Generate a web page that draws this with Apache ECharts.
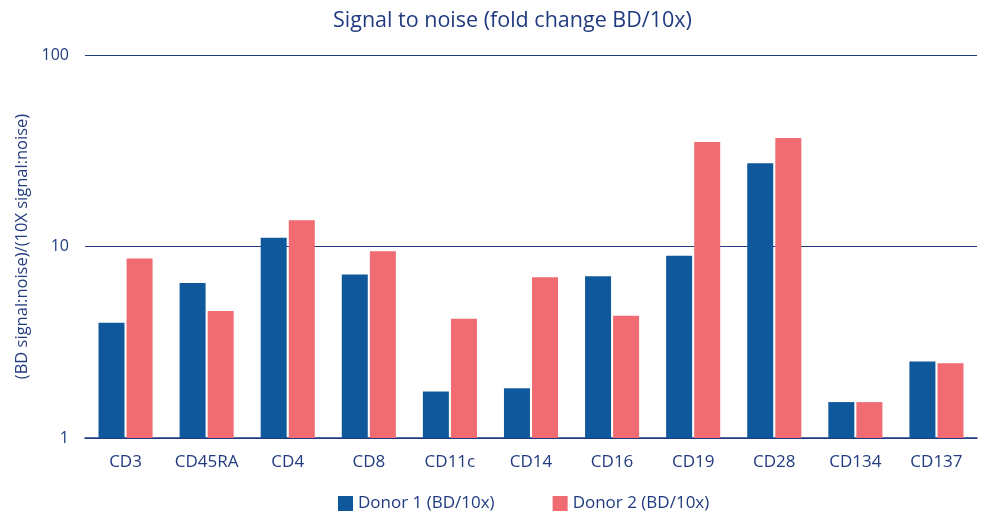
<!DOCTYPE html>
<html><head><meta charset="utf-8">
<script src="https://cdn.jsdelivr.net/npm/echarts@6/dist/echarts.min.js"></script>
<style>html,body{margin:0;padding:0;background:#fff}#c{width:989px;height:512px}</style>
</head><body><div id="c"></div>
<script>
const categories = ['CD3','CD45RA','CD4','CD8','CD11c','CD14','CD16','CD19','CD28','CD134','CD137'];
const donor1 = [4.0, 6.45, 11.1, 7.15, 1.75, 1.82, 7.0, 8.95, 27.2, 1.54, 2.51];
const donor2 = [8.65, 4.6, 13.7, 9.45, 4.2, 6.9, 4.35, 35.1, 36.9, 1.54, 2.46];
const seriesNames = ['Donor 1 (BD/10x)', 'Donor 2 (BD/10x)'];
const navy = '#213b80';
const font = 'Open Sans';
const chart = echarts.init(document.getElementById('c'));
chart.setOption({
  animation: false,
  title: {text: 'Signal to noise (fold change BD/10x)', left: 328, top: 5,
    textStyle: {color: navy, fontSize: 21.5, fontWeight: 'normal', fontFamily: font}},
  legend: {top: 490, left: 333, itemWidth: 15, itemHeight: 15, itemGap: 58,
    icon: 'rect', textStyle: {color: navy, fontSize: 17, fontFamily: font}},
  grid: {left: 85, right: 12, top: 55, bottom: 74},
  xAxis: {type: 'category', data: categories,
    axisLine: {lineStyle: {color: navy, width: 1.5}}, axisTick: {show: false},
    axisLabel: {color: navy, fontSize: 17, fontFamily: font, margin: 16, interval: 0}},
  yAxis: {type: 'log', logBase: 10, min: 1, max: 100,
    name: '(BD signal:noise)/(10X signal:noise)', nameLocation: 'middle', nameGap: 54,
    nameTextStyle: {color: navy, fontSize: 16.5, fontFamily: font},
    axisLine: {show: false}, axisTick: {show: false},
    axisLabel: {color: navy, fontSize: 16, fontFamily: font, margin: 16},
    splitLine: {lineStyle: {color: navy, width: 1.2}}},
  series: [
    {name: seriesNames[0], type: 'bar', data: donor1, barWidth: 26, barGap: '8%', itemStyle: {color: '#10589c'}},
    {name: seriesNames[1], type: 'bar', data: donor2, barWidth: 26, itemStyle: {color: '#f06b72'}}
  ]
});
</script></body></html>
